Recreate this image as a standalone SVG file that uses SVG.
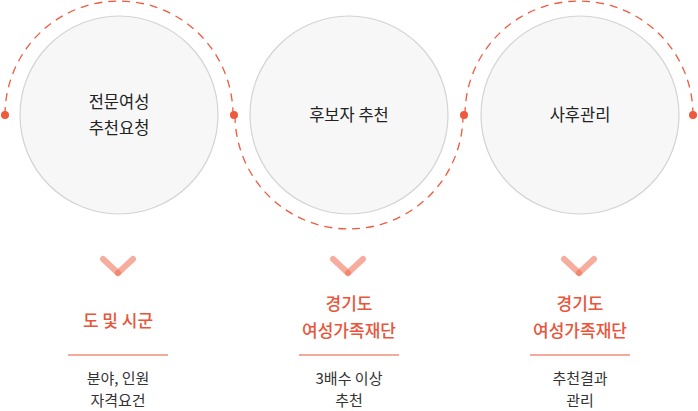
<svg xmlns="http://www.w3.org/2000/svg" width="698" height="411" viewBox="0 0 698 411">
<style>
.c{fill:#f7f7f7;stroke:#d3d3d3;stroke-width:1.2}
.arc{fill:none;stroke:#ee5a3e;stroke-width:1.3;stroke-dasharray:8 6}
.dot{fill:#ee5a3e}
.chev{fill:none;stroke:#f06a4c;stroke-opacity:0.55;stroke-width:6;stroke-linecap:round}
.t{font-family:"Noto Sans CJK KR","Noto Sans",sans-serif;font-size:16.5px;fill:#222;text-anchor:middle}
.o{font-family:"Noto Sans CJK KR","Noto Sans",sans-serif;font-size:17px;fill:#e8553a;text-anchor:middle;font-weight:500}
.g{font-family:"Noto Sans CJK KR","Noto Sans",sans-serif;font-size:15px;fill:#333;text-anchor:middle}
.ln{stroke:#e8553a;stroke-width:1}
</style>
<g id="connectors">
<path class="arc" d="M5 115 A114 114 0 0 1 233 115"/>
<path class="arc" d="M235 115 A114 114 0 0 0 463 115"/>
<path class="arc" d="M465 115 A114 114 0 0 1 693 115"/>
<circle class="dot" cx="5" cy="115" r="4"/>
<circle class="dot" cx="234" cy="115" r="4"/>
<circle class="dot" cx="464" cy="115" r="4"/>
<circle class="dot" cx="693" cy="115" r="4"/>
</g>
<g id="step1">
<circle class="c" cx="119" cy="115" r="99"/>
<text class="t" x="119" y="108">전문여성</text>
<text class="t" x="119" y="134">추천요청</text>
<path class="chev" d="M103 259 L118 273"/><path class="chev" d="M133 259 L118 273"/>
<text class="o" x="118" y="327">도 및 시군</text>
<line class="ln" x1="68" y1="355" x2="168" y2="355"/>
<text class="g" x="118" y="384">분야, 인원</text>
<text class="g" x="118" y="406">자격요건</text>
</g>
<g id="step2">
<circle class="c" cx="349" cy="115" r="99"/>
<text class="t" x="349" y="121">후보자 추천</text>
<path class="chev" d="M333 259 L348 273"/><path class="chev" d="M363 259 L348 273"/>
<text class="o" x="349" y="310">경기도</text>
<text class="o" x="349" y="337">여성가족재단</text>
<line class="ln" x1="299" y1="355" x2="399" y2="355"/>
<text class="g" x="349" y="384">3배수 이상</text>
<text class="g" x="349" y="406">추천</text>
</g>
<g id="step3">
<circle class="c" cx="580" cy="115" r="99"/>
<text class="t" x="580" y="121">사후관리</text>
<path class="chev" d="M564 259 L579 273"/><path class="chev" d="M594 259 L579 273"/>
<text class="o" x="580" y="310">경기도</text>
<text class="o" x="580" y="337">여성가족재단</text>
<line class="ln" x1="530" y1="355" x2="630" y2="355"/>
<text class="g" x="580" y="384">추천결과</text>
<text class="g" x="580" y="406">관리</text>
</g>
</svg>
